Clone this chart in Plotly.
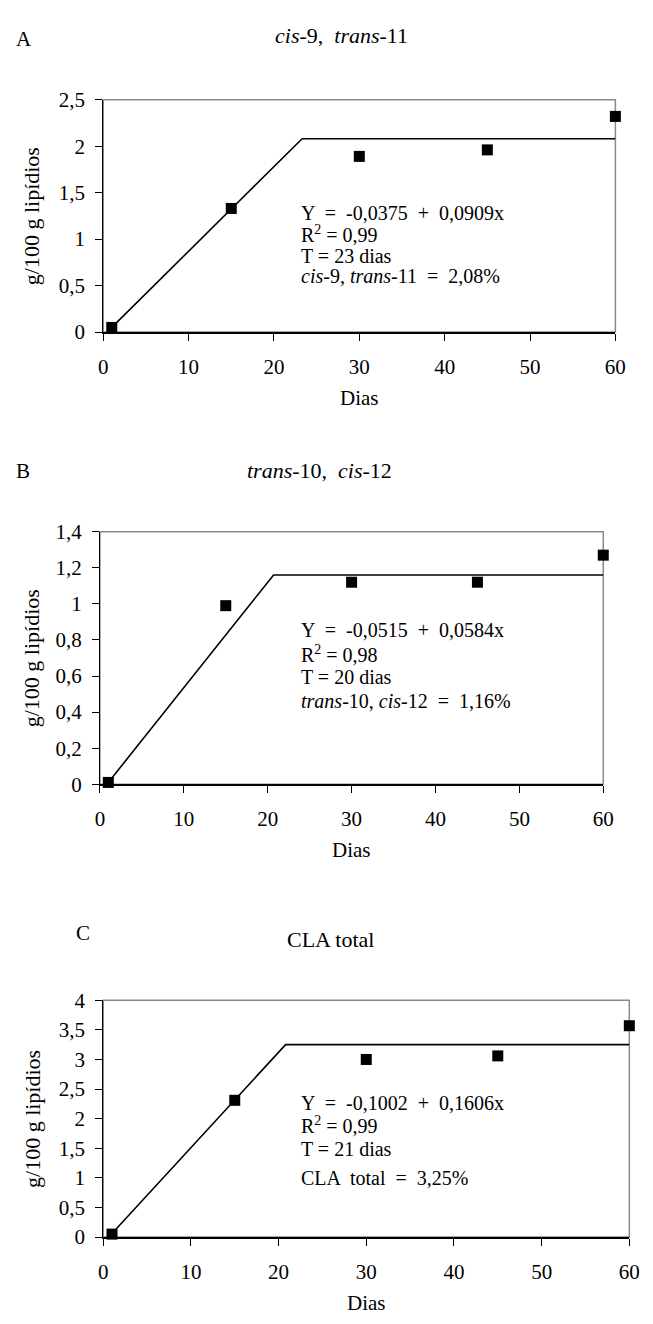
import plotly.graph_objects as go

W, H = 653, 1324

# ---------------- data ----------------
dias = [1, 15, 30, 45, 60]
c9t11 = [0.05, 1.33, 1.89, 1.96, 2.32]
t10c12 = [0.01, 0.99, 1.12, 1.12, 1.27]
cla_total = [0.05, 2.31, 3.00, 3.06, 3.57]

# fitted segmented (plateau) models
fit_x_A = [1, 23.3, 60]
fit_y_A = [0.05, 2.08, 2.08]
fit_x_B = [1, 20.7, 60]
fit_y_B = [0.01, 1.16, 1.16]
fit_x_C = [1, 20.8, 60]
fit_y_C = [0.06, 3.25, 3.25]

x_ticks = [0, 10, 20, 30, 40, 50, 60]
x_ticktext = ["0", "10", "20", "30", "40", "50", "60"]
yA_ticks = [0, 0.5, 1, 1.5, 2, 2.5]
yA_text = ["0", "0,5", "1", "1,5", "2", "2,5"]
yB_ticks = [0, 0.2, 0.4, 0.6, 0.8, 1.0, 1.2, 1.4]
yB_text = ["0", "0,2", "0,4", "0,6", "0,8", "1", "1,2", "1,4"]
yC_ticks = [0, 0.5, 1, 1.5, 2, 2.5, 3, 3.5, 4]
yC_text = ["0", "0,5", "1", "1,5", "2", "2,5", "3", "3,5", "4"]

titles = ["<i>cis</i>-9,  <i>trans</i>-11", "<i>trans</i>-10,  <i>cis</i>-12", "CLA total"]
letters = ["A", "B", "C"]
eq_A = ["Y  =  -0,0375  +  0,0909x", "R<sup>2</sup> = 0,99", "T = 23 dias",
        "<i>cis</i>-9, <i>trans</i>-11  =  2,08%"]
eq_B = ["Y  =  -0,0515  +  0,0584x", "R<sup>2</sup> = 0,98", "T = 20 dias",
        "<i>trans</i>-10, <i>cis</i>-12  =  1,16%"]
eq_C = ["Y  =  -0,1002  +  0,1606x", "R<sup>2</sup> = 0,99", "T = 21 dias",
        "CLA  total  =  3,25%"]
ytitle = "g/100 g lipídios"
xtitle = "Dias"

FONT = "Liberation Serif, Times New Roman, serif"
TICK_SIZE = 21
TEXT_SIZE = 20

# ---------------- layout geometry (pixels) ----------------
panels = [
    dict(x0=100.7, x1=625.7, y0=89.3, y1=326.0, yt=yA_ticks, ytt=yA_text, yr=[0, 2.5],
         y=c9t11, fx=fit_x_A, fy=fit_y_A, title=titles[0], tpos=(345, 24), letter="A", lpos=(19, 27),
         eq=eq_A, eqx=301, eqy=[205, 226, 248, 269]),
    dict(x0=97.3, x1=613.3, y0=529.3, y1=786.5, yt=yB_ticks, ytt=yB_text, yr=[0, 1.4],
         y=t10c12, fx=fit_x_B, fy=fit_y_B, title=titles[1], tpos=(322, 467), letter="B", lpos=(18, 467),
         eq=eq_B, eqx=301, eqy=[629, 654, 677, 702]),
    dict(x0=100.7, x1=640.0, y0=1006.5, y1=1247.7, yt=yC_ticks, ytt=yC_text, yr=[0, 4],
         y=cla_total, fx=fit_x_C, fy=fit_y_C, title=titles[2], tpos=(334, 945), letter="C", lpos=(80, 938),
         eq=eq_C, eqx=301, eqy=[1111, 1134, 1158, 1188]),
]


def px(x):
    return x / W


def py(y):
    return 1 - y / H


fig = go.Figure()
annotations = []
shapes = []

for i, p in enumerate(panels):
    n = "" if i == 0 else str(i + 1)
    xa, ya = "x" + n, "y" + n
    fig.add_trace(go.Scatter(x=p["fx"], y=p["fy"], mode="lines",
                             line=dict(color="black", width=1.6),
                             xaxis=xa, yaxis=ya, showlegend=False, hoverinfo="skip"))
    fig.add_trace(go.Scatter(x=dias, y=p["y"], mode="markers",
                             marker=dict(symbol="square", size=11, color="black"),
                             xaxis=xa, yaxis=ya, showlegend=False, cliponaxis=False))

    common = dict(showgrid=False, zeroline=False, showline=True, linecolor="black",
                  ticks="outside", ticklen=7, tickcolor="black", tickwidth=1,
                  tickfont=dict(family=FONT, size=TICK_SIZE, color="black"),
                  fixedrange=True)
    fig.update_layout(**{
        "xaxis" + n: dict(domain=[px(p["x0"]), px(p["x1"])], range=[0, 60],
                          tickvals=x_ticks, ticktext=x_ticktext, anchor=ya,
                          linewidth=2, ticklabelstandoff=8, **common),
        "yaxis" + n: dict(domain=[py(p["y1"]), py(p["y0"])], range=p["yr"],
                          tickvals=p["yt"], ticktext=p["ytt"], anchor=xa,
                          linewidth=1, ticklabelstandoff=6, **common),
    })

    # gray frame (top / right border)
    shapes.append(dict(type="rect", xref=xa + " domain", yref=ya + " domain",
                       x0=0, x1=1, y0=0, y1=1, line=dict(color="#8a8a8a", width=1.5),
                       layer="below"))

    # panel title & letter
    annotations.append(dict(text=p["title"], x=px(p["tpos"][0]), y=py(p["tpos"][1]),
                            xref="paper", yref="paper", showarrow=False,
                            xanchor="center", yanchor="middle",
                            font=dict(family=FONT, size=22, color="black")))
    annotations.append(dict(text=p["letter"], x=px(p["lpos"][0]), y=py(p["lpos"][1]),
                            xref="paper", yref="paper", showarrow=False,
                            xanchor="center", yanchor="middle",
                            font=dict(family=FONT, size=21, color="black")))
    # equation block
    for line, yy in zip(p["eq"], p["eqy"]):
        annotations.append(dict(text=line, x=px(p["eqx"]), y=py(yy),
                                xref="paper", yref="paper", showarrow=False,
                                xanchor="left", yanchor="middle",
                                font=dict(family=FONT, size=TEXT_SIZE, color="black")))
    # axis titles
    annotations.append(dict(text=ytitle, x=px(28), y=py((p["y0"] + p["y1"]) / 2),
                            xref="paper", yref="paper", showarrow=False, textangle=-90,
                            xanchor="center", yanchor="middle",
                            font=dict(family=FONT, size=22, color="black")))
    annotations.append(dict(text=xtitle, x=px((p["x0"] + p["x1"]) / 2), y=py(p["y1"] + 67),
                            xref="paper", yref="paper", showarrow=False,
                            xanchor="center", yanchor="middle",
                            font=dict(family=FONT, size=21, color="black")))

fig.update_layout(width=W, height=H, autosize=False,
                  margin=dict(l=0, r=0, t=0, b=0),
                  paper_bgcolor="white", plot_bgcolor="white",
                  annotations=annotations, shapes=shapes)

fig.write_html("out.html", config={"displayModeBar": False},
               post_script="document.body.style.margin='0px';document.body.style.overflow='hidden';")
